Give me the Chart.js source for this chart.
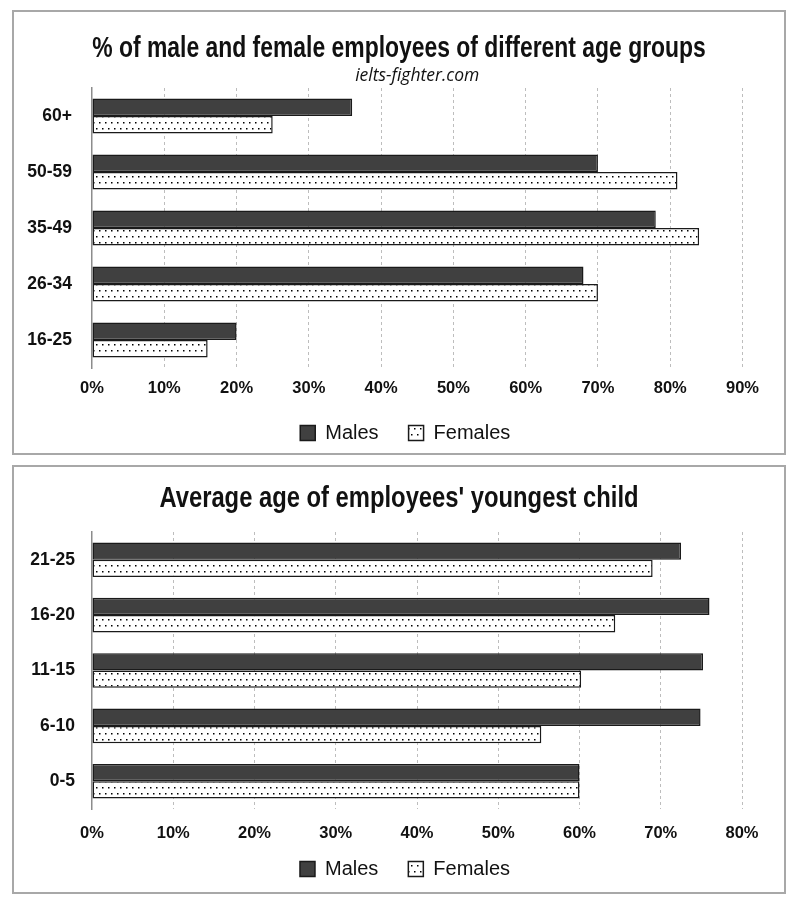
<!DOCTYPE html>
<html>
<head>
<meta charset="utf-8">
<script src="https://cdn.jsdelivr.net/npm/chart.js@4.4.0/dist/chart.umd.min.js"></script>
<style>
  body { margin: 0; background: #fff; }
  .box { position: absolute; left: 12px; width: 770px; border: 2px solid #a8a8a8; }
  #box1 { top: 10px; height: 441px; }
  #box2 { top: 465px; height: 425px; }
  .box canvas { position: absolute; left: 0; top: 0; }
</style>
</head>
<body>
<div class="box" id="box1"><canvas id="chart1" width="770" height="441"></canvas></div>
<div class="box" id="box2"><canvas id="chart2" width="770" height="425"></canvas></div>
<script>
// chart 1 - employees by age group
const ageGroups = ['60+', '50-59', '35-49', '26-34', '16-25'];
const malesByAge = [36, 70, 78, 68, 20];
const femalesByAge = [25, 81, 84, 70, 16];
const ageAxisMax = 90;

// chart 2 - age of youngest child
const childAges = ['21-25', '16-20', '11-15', '6-10', '0-5'];
const malesByChild = [72.5, 76, 75.2, 74.9, 60];
const femalesByChild = [69, 64.4, 60.2, 55.3, 60];
const childAxisMax = 80;

const seriesNames = ['Males', 'Females'];
const tickStep = 10;

const SANS = "'Liberation Sans', Arial, sans-serif";

// titik-titik untuk batang Females
function dotPattern() {
    const c = document.createElement('canvas');
    c.width = 6; c.height = 12;
    const g = c.getContext('2d');
    g.fillStyle = '#fff';
    g.fillRect(0, 0, 6, 12);
    g.fillStyle = '#000';
    g.fillRect(1, 2, 1.5, 1.5);
    g.fillRect(4, 8, 1.5, 1.5);
    return g.createPattern(c, 'repeat');
}

// judul digambar sendiri & dipersempit (font Narrow tidak tersedia)
const narrowTitle = {
    id: 'narrowTitle',
    afterDraw(chart, args, o) {
        if (!o.text) return;
        const ctx = chart.ctx;
        ctx.save();
        ctx.font = `bold ${o.size}px ${SANS}`;
        ctx.fillStyle = '#111';
        ctx.textAlign = 'center';
        ctx.textBaseline = 'alphabetic';
        ctx.translate(chart.width / 2, o.y);
        ctx.scale(o.stretch, 1);
        ctx.fillText(o.text, 0, 0);
        ctx.restore();
    }
};

// geser legend sedikit (label sumbu x jangan terpotong)
const moveLegend = {
    id: 'moveLegend',
    afterLayout(chart, args, o) {
        const lg = chart.legend;
        lg.left += o.dx; lg.right += o.dx;
        lg.top += o.dy; lg.bottom += o.dy;
    }
};

function makeChart(id, opt) {
    const ctx = document.getElementById(id).getContext('2d');
    const plugins = {
        legend: {
            position: 'bottom',
            labels: {
                boxWidth: 15, boxHeight: 15, padding: 30,
                color: '#111', font: { family: SANS, size: 20 }
            }
        },
        title: { display: false },
        tooltip: { enabled: false },
        narrowTitle: { text: opt.title, size: 29, stretch: opt.stretch, y: opt.titleY },
        moveLegend: { dx: 27, dy: opt.legendDy }
    };
    if (opt.subtitle) {
        plugins.subtitle = {
            display: true, text: opt.subtitle, fullSize: false, color: '#111',
            font: { family: "'Open Sans', sans-serif", size: 17.5, style: 'italic' },
            padding: { top: 0, bottom: 1.5 }
        };
    }
    return new Chart(ctx, {
        type: 'bar',
        data: {
            labels: opt.labels,
            datasets: [{
                label: seriesNames[0],
                data: opt.males,
                backgroundColor: '#404040',
                borderColor: '#1a1a1a',
                borderWidth: 1.5,
                borderSkipped: false
            }, {
                label: seriesNames[1],
                data: opt.females,
                backgroundColor: dotPattern(),
                borderColor: '#1a1a1a',
                borderWidth: 1.5,
                borderSkipped: false
            }]
        },
        plugins: [narrowTitle, moveLegend],
        options: {
            indexAxis: 'y',
            responsive: false,
            animation: false,
            categoryPercentage: 0.625,
            barPercentage: 1,
            layout: { padding: { left: 0, right: opt.padRight, top: opt.padTop, bottom: opt.padBottom } },
            plugins: plugins,
            scales: {
                x: {
                    min: 0, max: opt.xMax,
                    ticks: {
                        stepSize: tickStep, padding: opt.tickPad, color: '#111',
                        font: { family: SANS, size: 16.5, weight: 'bold' },
                        callback: v => v + '%'
                    },
                    grid: {
                        drawTicks: false,
                        color: c => c.tick && c.tick.value === 0 ? 'rgba(0,0,0,0)' : '#bdbdbd'
                    },
                    border: { display: false, dash: [3, 3] },
                    afterFit: s => { s.height = 35; }
                },
                y: {
                    grid: { display: false, drawTicks: false },
                    border: { display: true, color: '#8c8c8c', width: 1.5 },
                    ticks: {
                        padding: opt.labelPad, color: '#111',
                        font: { family: SANS, size: 17.5, weight: 'bold' }
                    },
                    afterFit: s => { s.width = 78; }
                }
            }
        }
    });
}

makeChart('chart1', {
    labels: ageGroups, males: malesByAge, females: femalesByAge, xMax: ageAxisMax,
    title: '% of male and female employees of different age groups',
    subtitle: 'ielts-fighter.com',
    titleY: 45, stretch: 0.79, padTop: 53.5,
    padRight: 41.5, padBottom: -10, legendDy: -10, tickPad: 11, labelPad: 20
});

makeChart('chart2', {
    labels: childAges, males: malesByChild, females: femalesByChild, xMax: childAxisMax,
    title: "Average age of employees' youngest child",
    titleY: 40, stretch: 0.82, padTop: 65,
    padRight: 42, padBottom: -12, legendDy: -15, tickPad: 15, labelPad: 17
});
</script>
</body>
</html>
